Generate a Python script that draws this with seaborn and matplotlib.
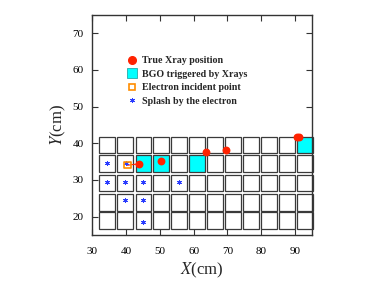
import matplotlib
matplotlib.use("Agg")
import matplotlib.pyplot as plt
from matplotlib.patches import Rectangle
from matplotlib.lines import Line2D
import seaborn as sns
import pandas as pd

# detector cell grid (centres in cm)
col_centers = [34.5, 39.8, 45.2, 50.4, 55.7, 61.0, 66.3, 71.7, 77.0, 82.3, 87.6, 92.8]
row_centers = [39.5, 34.5, 29.1, 23.8, 18.9]
cell_w = 4.7
cell_h = 4.5

# cells triggered by x-rays (column index, row index)
hit_cols = [2, 3, 5, 11]
hit_rows = [1, 1, 1, 0]

# true x-ray positions
xray_x = [43.9, 50.3, 63.6, 69.6, 90.4, 91.2]
xray_y = [34.4, 35.2, 37.6, 38.2, 41.7, 41.7]

# electron incident point
elec_x = [40.4]
elec_y = [34.0]

# splash by the electron
splash_x = [34.3, 39.9, 34.3, 39.7, 44.9, 55.6, 39.7, 44.9, 44.9]
splash_y = [34.5, 34.5, 29.4, 29.4, 29.4, 29.4, 24.4, 24.4, 18.5]

labels = ["True Xray position", "BGO triggered by Xrays",
          "Electron incident point", "Splash by the electron"]

sns.set_style("ticks")
plt.rcParams["font.family"] = ["Liberation Serif", "DejaVu Serif"]
plt.rcParams["mathtext.fontset"] = "stix"

fig = plt.figure(figsize=(3.82, 2.81), dpi=100)
ax = fig.add_axes([0.241, 0.164, 0.576, 0.783])

hits = set(zip(hit_cols, hit_rows))
for j, yc in enumerate(row_centers):
    for i, xc in enumerate(col_centers):
        fc = "#00ffff" if (i, j) in hits else "white"
        ax.add_patch(Rectangle((xc - cell_w / 2, yc - cell_h / 2), cell_w, cell_h,
                               facecolor=fc, edgecolor="#3a3a3a", lw=0.9,
                               zorder=1, clip_on=False))

ax.plot([elec_x[0], xray_x[0]], [elec_y[0], xray_y[0]], color="#ff2200", lw=0.8, zorder=3)

df_splash = pd.DataFrame({"x": splash_x, "y": splash_y})
sns.scatterplot(data=df_splash, x="x", y="y", ax=ax, marker=(6, 2, 0), s=9,
                color="#2a3cff", linewidth=0.7, edgecolor="#2a3cff", zorder=4)
df_elec = pd.DataFrame({"x": elec_x, "y": elec_y})
sns.scatterplot(data=df_elec, x="x", y="y", ax=ax, marker="s", s=22,
                facecolor="none", edgecolor="#ff8c00", linewidth=1.2, zorder=5)
df_xray = pd.DataFrame({"x": xray_x, "y": xray_y})
sns.scatterplot(data=df_xray, x="x", y="y", ax=ax, marker="o", s=32,
                color="#ff2200", edgecolor="#ff2200", linewidth=0, zorder=6)

ax.set_xlim(30, 95)
ax.set_ylim(15, 75)
ax.set_xticks([30, 40, 50, 60, 70, 80, 90])
ax.set_yticks([20, 30, 40, 50, 60, 70])
ax.tick_params(direction="in", length=4.5, width=0.8, top=True, right=True,
               labelsize=8, colors="#333333", labelcolor="black")
ax.tick_params(axis="x", pad=9)
ax.tick_params(axis="y", pad=6)
for sp in ax.spines.values():
    sp.set_color("#333333")
    sp.set_linewidth(1.0)
    sp.set_zorder(7)

ax.set_xlabel(r"$X$(cm)", fontsize=12, labelpad=3)
ax.set_ylabel(r"$Y$(cm)", fontsize=12, labelpad=3)

handles = [
    Line2D([], [], ls="none", marker="o", ms=5.5, color="#ff2200", mec="#ff2200"),
    Line2D([], [], ls="none", marker="s", ms=7, mfc="#00ffff", mec="#2aa", mew=0.6),
    Line2D([], [], ls="none", marker="s", ms=4.5, mfc="white", mec="#ff8c00", mew=1.2),
    Line2D([], [], ls="none", marker=(6, 2, 0), ms=3.5, color="#2a3cff", mew=0.7),
]
ax.legend(handles, labels, loc="upper left", bbox_to_anchor=(0.14, 0.83),
          frameon=False, handlelength=1.0, handletextpad=0.5, labelspacing=0.45,
          borderaxespad=0, prop={"weight": "bold", "size": 7.2})

fig.savefig("out.png", dpi=100)
